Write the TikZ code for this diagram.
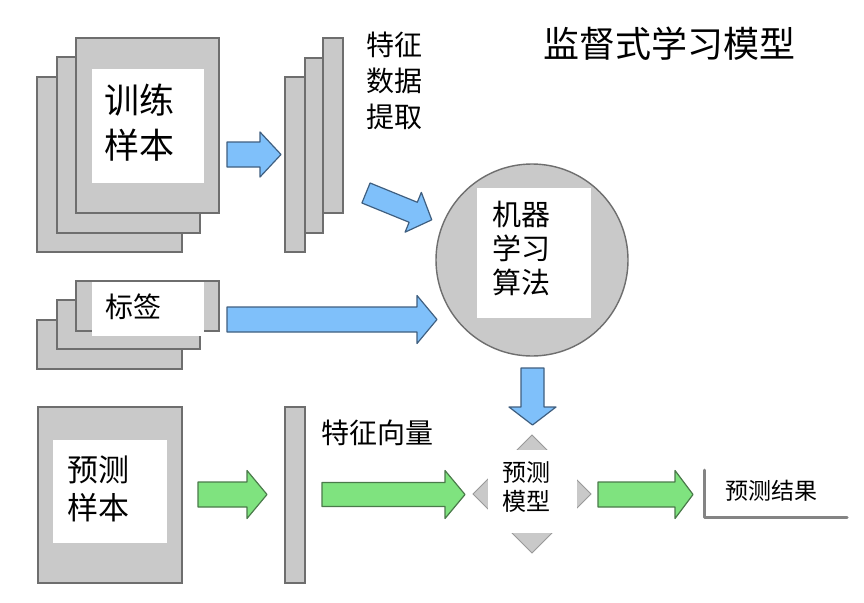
\documentclass[tikz,border=0pt]{standalone}
\usepackage{fontspec}
\setmainfont{Noto Sans CJK SC}
\newfontfamily\cjk{Noto Sans CJK SC}
\definecolor{sheet}{HTML}{C9C9C9}
\definecolor{sheetline}{HTML}{6E6E6E}
\definecolor{bluefill}{HTML}{7FC0FA}
\definecolor{blueline}{HTML}{3F5F80}
\definecolor{greenfill}{HTML}{7FE37F}
\definecolor{greenline}{HTML}{4A7A4A}
\newcommand{\blockarr}[8]{%
  \begin{scope}[shift={(#2,#3)},rotate=#4]
    \draw[#1] (0,-#6) -- ({#5-#8},-#6) -- ({#5-#8},-#7) -- (#5,0) -- ({#5-#8},#7) -- ({#5-#8},#6) -- (0,#6) -- cycle;
  \end{scope}}
\begin{document}
\begin{tikzpicture}[x=1pt,y=-1pt,
  sheetbox/.style={fill=sheet,draw=sheetline,line width=1.4pt},
  whitebox/.style={fill=white,draw=none},
  bluearr/.style={fill=bluefill,draw=blueline,line width=1.2pt,line join=round},
  greenarr/.style={fill=greenfill,draw=greenline,line width=1.2pt,line join=round},
  lbl/.style={font=\cjk,text=black,inner sep=0pt,align=left}]
\useasboundingbox (0,0) rectangle (864,602);
\fill[white] (0,0) rectangle (864,602);

% title
\node[lbl,font=\cjk\fontsize{36}{40}\selectfont] (title) at (669,44) {监督式学习模型};

% training samples stack
\draw[sheetbox] (37,77) rectangle (182,252);
\draw[sheetbox] (57,57) rectangle (200,233);
\draw[sheetbox] (76,38) rectangle (219,213);
\fill[whitebox] (92,69) rectangle (204,183);
\node[lbl,font=\cjk\fontsize{35}{45}\selectfont,anchor=west] (train) at (104,123) {训练\\样本};

% arrow to feature extraction
\blockarr{bluearr}{227}{154.5}{0}{54}{12.5}{22.5}{21}

% feature stack
\draw[sheetbox] (285,77) rectangle (305,252);
\draw[sheetbox] (305,58) rectangle (323,233);
\draw[sheetbox] (323,38) rectangle (343,213);
\node[lbl,font=\cjk\fontsize{28}{36}\selectfont,anchor=west] (feat) at (366,81) {特征\\数据\\提取};

% diagonal arrow
\blockarr{bluearr}{366}{193}{-22.2}{71}{10.8}{21.5}{20}

% ML algorithm circle
\draw[fill=sheet,draw=sheetline,line width=1.4pt] (532,260) circle (96);
\fill[whitebox] (477,188) rectangle (591,318);
\node[lbl,font=\cjk\fontsize{29}{34}\selectfont,anchor=west] (algo) at (492,248) {机器\\学习\\算法};

% labels stack
\draw[sheetbox] (37,320) rectangle (182,369);
\draw[sheetbox] (57,300) rectangle (200,349);
\draw[sheetbox] (76,281) rectangle (219,331);
\fill[whitebox] (92,282) rectangle (204,336);
\node[lbl,font=\cjk\fontsize{28}{34}\selectfont,anchor=west] (tag) at (105,307) {标签};

% long arrow to circle
\blockarr{bluearr}{227}{319.5}{0}{210}{12.5}{24}{20}

% down arrow to model
\blockarr{bluearr}{532.5}{368}{-90}{57}{11.5}{23.5}{18}

% prediction model diamond
\draw[fill=sheet,draw=sheetline!70,line width=0.8pt] (532,435) -- (591,494) -- (532,553) -- (473,494) -- cycle;
\fill[whitebox] (488,450) rectangle (577,533);
\node[lbl,font=\cjk\fontsize{24}{29}\selectfont,anchor=west] (model) at (502,487) {预测\\模型};

% prediction samples
\draw[sheetbox] (38,407) rectangle (182,583);
\fill[whitebox] (53,440) rectangle (167,543);
\node[lbl,font=\cjk\fontsize{31}{38}\selectfont,anchor=west] (pred) at (67,489) {预测\\样本};

\blockarr{greenarr}{198}{494.5}{0}{69}{12.5}{24}{20}

% feature vector bar
\draw[sheetbox] (285,407) rectangle (305,583);
\node[lbl,font=\cjk\fontsize{28}{34}\selectfont,anchor=west] (vec) at (321,433) {特征向量};

\blockarr{greenarr}{322}{494.5}{0}{143}{12}{24}{20}
\blockarr{greenarr}{598}{494.5}{0}{95}{12.5}{24}{18}

% result
\draw[sheetline!85,line width=3pt,line cap=round,line join=round] (704,470) -- (704,517) -- (847,517);
\node[lbl,font=\cjk\fontsize{23}{28}\selectfont,anchor=west] (res) at (725,491) {预测结果};
\end{tikzpicture}
\end{document}
